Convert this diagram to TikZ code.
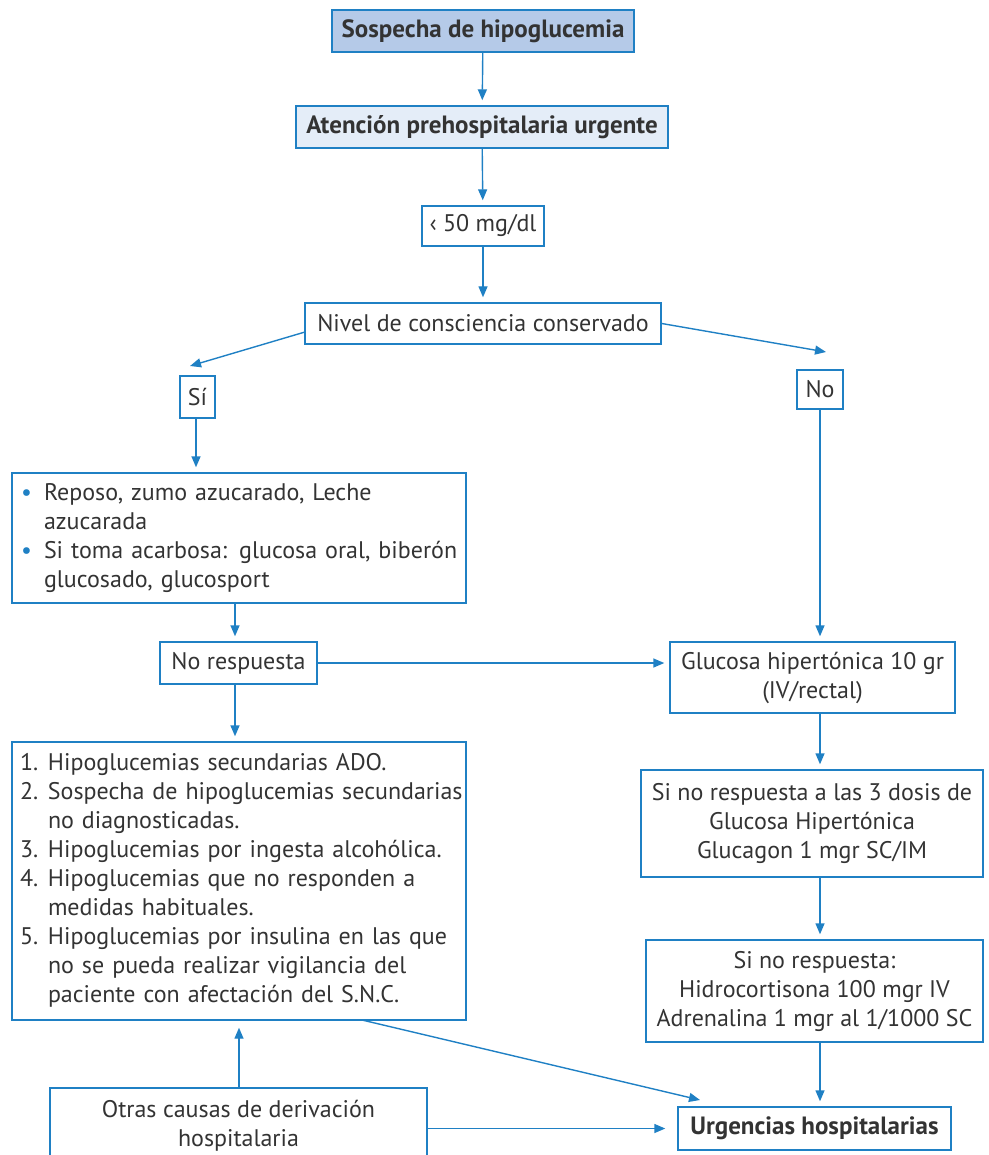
\documentclass[tikz,border=0pt]{standalone}
\usepackage{fontspec}
\setmainfont{PT Sans}
\usetikzlibrary{arrows.meta,calc}
\definecolor{bblue}{HTML}{1F80C4}
\definecolor{fillA}{HTML}{B5CAE8}
\definecolor{fillB}{HTML}{E4EDF8}
\definecolor{tcol}{HTML}{333333}
\newcommand{\msz}{\fontsize{24}{29}\selectfont}
\newcommand{\bsz}{\fontsize{25}{29}\selectfont\bfseries}
\newcommand{\blt}{\textcolor{bblue}{•}}
\begin{document}
\begin{tikzpicture}[x=1pt,y=-1pt,
  box/.style={draw=bblue, line width=1.4pt, inner sep=0pt, text=tcol, font=\msz, align=center},
  arr/.style={draw=bblue, line width=1.4pt, -{Triangle[length=11pt,width=9pt]}, shorten >=5pt}]
\useasboundingbox (0,0) rectangle (988,1155);
\clip (0,0) rectangle (988,1155);
\node[box, fill=fillA, font=\bsz, minimum width=302, minimum height=42] (s1) at (483,31) {Sospecha de hipoglucemia};
\node[box, fill=fillB, font=\bsz, minimum width=372, minimum height=42] (s2) at (482,127) {Atención prehospitalaria urgente};
\node[box, minimum width=122, minimum height=40] (s3) at (483,226) {‹ 50 mg/dl};
\node[box, minimum width=356, minimum height=41] (s4) at (483,323.5) {Nivel de consciencia conservado};
\node[box, minimum width=35, minimum height=42] (si) at (197.5,397) {Sí};
\node[box, minimum width=46, minimum height=39] (no) at (820,389.5) {No};
\node[box, minimum width=454, minimum height=130, align=left, text width=436, inner xsep=9pt] (bul) at (239,538) {%
\begin{tabular}{@{}p{23pt}@{}l@{}}
\blt & Reposo, zumo azucarado, Leche\\
 & azucarada\\
\blt & Si toma acarbosa: glucosa oral, biberón\\
 & glucosado, glucosport
\end{tabular}};
\node[box, minimum width=157, minimum height=42] (nr) at (238.5,663) {No respuesta};
\node[box, minimum width=285, minimum height=71] (gl) at (812.5,677.5) {Glucosa hipertónica 10 gr\\(IV/rectal)};
\node[box, minimum width=454, minimum height=278, align=left, text width=438, inner xsep=8pt] (num) at (239,881) {%
\begin{tabular}{@{}p{28pt}@{}l@{}}
1. & Hipoglucemias secundarias ADO.\\
2. & Sospecha de hipoglucemias secundarias\\
 & no diagnosticadas.\\
3. & Hipoglucemias por ingesta alcohólica.\\
4. & Hipoglucemias que no responden a\\
 & medidas habituales.\\
5. & Hipoglucemias por insulina en las que\\
 & no se pueda realizar vigilancia del\\
 & paciente con afectación del S.N.C.
\end{tabular}};
\node[box, minimum width=342, minimum height=107] (g3) at (812,823.5) {Si no respuesta a las 3 dosis de\\Glucosa Hipertónica\\Glucagon 1 mgr SC/IM};
\node[box, minimum width=337, minimum height=102] (sn) at (814.5,991) {Si no respuesta:\\Hidrocortisona 100 mgr IV\\Adrenalina 1 mgr al 1/1000 SC};
\node[box, minimum width=377, minimum height=76] (ot) at (238.5,1126) {Otras causas de derivación\\hospitalaria};
\node[box, font=\bsz, minimum width=273, minimum height=43] (ur) at (814.5,1128.5) {Urgencias hospitalarias};
\coordinate (siTip) at (190,366);
\coordinate (noTip) at (826,352);
\coordinate (s4W) at (305,332);
\coordinate (numOut) at (362,1020);
\coordinate (urTip) at (700,1100);
\coordinate (siX) at (196,0);
\coordinate (nrX) at (235,0);
\coordinate (otX) at (239,0);
\draw[arr] (s1) -- (s2);
\draw[arr] (s2) -- (s3);
\draw[arr] (s3) -- (s4);
\draw[arr, shorten >=0pt] (s4W) -- (siTip);
\draw[arr, shorten >=0pt] (s4.east) -- (noTip);
\draw[arr] (siX |- si.south) -- (siX |- bul.north);
\draw[arr] (nrX |- bul.south) -- (nrX |- nr.north);
\draw[arr] (nrX |- nr.south) -- (nrX |- num.north);
\draw[arr] (nr.east) -- (nr.east -| gl.west);
\draw[arr] (no.south) -- (no.south |- gl.north);
\draw[arr] (no.south |- gl.south) -- (no.south |- g3.north);
\draw[arr] (no.south |- g3.south) -- (no.south |- sn.north);
\draw[arr] (no.south |- sn.south) -- (no.south |- ur.north);
\draw[arr, shorten >=0pt] (numOut) -- (urTip);
\draw[arr, shorten >=7pt] (otX |- ot.north) -- (otX |- num.south);
\draw[arr, shorten >=12pt] (ot.east |- ur.west) -- (ur.west);
\end{tikzpicture}
\end{document}
